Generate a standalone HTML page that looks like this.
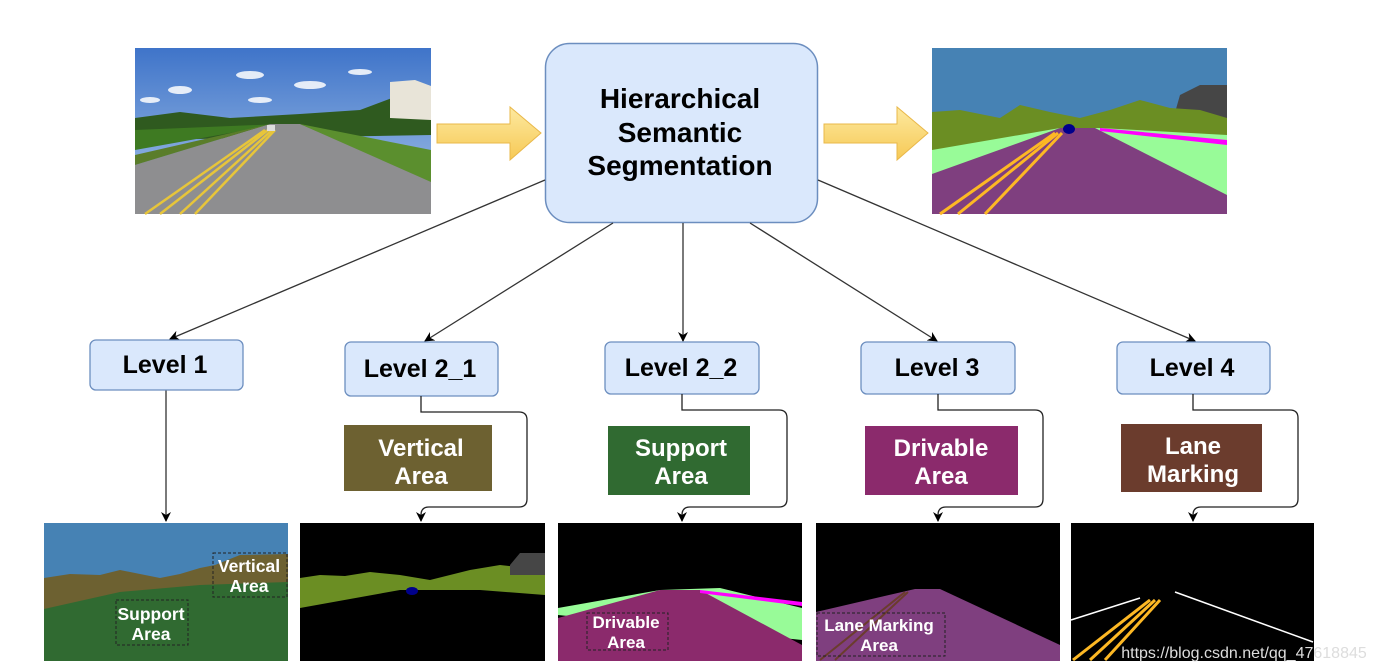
<!DOCTYPE html>
<html><head><meta charset="utf-8"><style>
html,body{margin:0;padding:0;background:#fff;}
svg{display:block;font-family:"Liberation Sans",Arial,sans-serif;font-weight:bold;}
</style></head><body>
<svg width="1376" height="672" viewBox="0 0 1376 672" xmlns="http://www.w3.org/2000/svg">
<defs>
<marker id="ah" markerWidth="10" markerHeight="10" refX="9" refY="5" orient="auto" markerUnits="userSpaceOnUse">
<path d="M0,0 L10,5 L0,10 L3,5 Z" fill="#000"/></marker>
<linearGradient id="sky" x1="0" y1="0" x2="0" y2="1"><stop offset="0" stop-color="#3f74c9"/><stop offset="1" stop-color="#a9c6ea"/></linearGradient>
<linearGradient id="arr" x1="0" y1="0" x2="0" y2="1"><stop offset="0" stop-color="#fde9a0"/><stop offset="1" stop-color="#f6c955"/></linearGradient>
</defs>

<!-- top-left photo -->
<rect x="135" y="48" width="296" height="166" fill="url(#sky)"/>
<g fill="#fff" opacity="0.85">
<ellipse cx="250" cy="75" rx="14" ry="4"/><ellipse cx="180" cy="90" rx="12" ry="4"/><ellipse cx="310" cy="85" rx="16" ry="4"/><ellipse cx="260" cy="100" rx="12" ry="3"/><ellipse cx="150" cy="100" rx="10" ry="3"/><ellipse cx="360" cy="72" rx="12" ry="3"/>
</g>
<polygon points="135,118 180,112 230,118 300,114 360,110 400,95 431,90 431,135 135,140" fill="#2f5a1f"/>
<polygon points="135,130 280,124 135,150" fill="#3e7a22"/>
<polygon points="390,82 415,80 431,86 431,120 390,118" fill="#e8e4d8"/>
<polygon points="135,165 270,124 300,124 431,180 431,214 135,214" fill="#8e8e90"/>
<polygon points="300,124 431,150 431,182" fill="#5b8f2e"/>
<polygon points="135,165 270,124 135,155" fill="#5a7d2a"/>
<g stroke="#e7c53a" stroke-width="2.5"><line x1="145" y1="214" x2="265" y2="130"/><line x1="160" y1="214" x2="268" y2="130"/><line x1="180" y1="214" x2="272" y2="130"/><line x1="195" y1="214" x2="275" y2="130"/></g>
<rect x="267" y="125" width="8" height="6" fill="#ddd"/>

<!-- arrows -->
<polygon points="437,124 510,124 510,107 541,133 510,160 510,143 437,143" fill="url(#arr)" stroke="#e9b84a"/>
<polygon points="824,124 897,124 897,107 928,133 897,160 897,143 824,143" fill="url(#arr)" stroke="#e9b84a"/>

<!-- top-right seg -->
<rect x="932" y="48" width="295" height="166" fill="#4682b4"/>
<polygon points="1180,95 1200,85 1227,85 1227,130 1170,130" fill="#464646"/>
<polygon points="932,112 960,110 1000,118 1020,105 1050,112 1080,118 1110,110 1140,100 1170,108 1200,110 1227,118 1227,140 932,150" fill="#6b8e23"/>
<polygon points="932,150 1060,128 1100,128 1227,135 1227,195 932,175" fill="#98fb98"/>
<polygon points="932,174 1060,128 1095,128 1227,195 1227,214 932,214" fill="#7f3f7f"/>
<polygon points="1100,128 1227,140 1227,145 1100,131" fill="#ff00ff"/>
<g stroke="#fdb824" stroke-width="3"><line x1="940" y1="214" x2="1055" y2="133"/><line x1="958" y1="214" x2="1058" y2="133"/><line x1="985" y1="214" x2="1062" y2="133"/></g>
<ellipse cx="1069" cy="129" rx="6" ry="5" fill="#00008b"/>

<!-- center box -->
<rect x="545.5" y="43.5" width="272" height="179" rx="24" fill="#dae8fc" stroke="#6c8ebf" stroke-width="1.5"/>
<g font-size="28" text-anchor="middle" fill="#000">
<text x="680" y="108">Hierarchical</text><text x="680" y="142">Semantic</text><text x="680" y="175">Segmentation</text></g>

<!-- connectors -->
<g stroke="#333" stroke-width="1.3" fill="none" marker-end="url(#ah)">
<line x1="545" y1="180" x2="170" y2="339"/>
<line x1="613" y1="223" x2="425" y2="341"/>
<line x1="683" y1="223" x2="683" y2="341"/>
<line x1="750" y1="223" x2="937" y2="341"/>
<line x1="818" y1="180" x2="1195" y2="341"/>
<line x1="166" y1="390" x2="166" y2="521"/>
</g>

<!-- level boxes -->
<g fill="#dae8fc" stroke="#6c8ebf" stroke-width="1.3">
<rect x="90" y="340" width="153" height="50" rx="6"/>
<rect x="345" y="342" width="153" height="54" rx="6"/>
<rect x="605" y="342" width="154" height="52" rx="6"/>
<rect x="861" y="342" width="154" height="52" rx="6"/>
<rect x="1117" y="342" width="153" height="52" rx="6"/>
</g>
<g font-size="25" text-anchor="middle" fill="#000">
<text x="165" y="373">Level 1</text>
<text x="420" y="377">Level 2_1</text>
<text x="681" y="376">Level 2_2</text>
<text x="937" y="376">Level 3</text>
<text x="1192" y="376">Level 4</text>
</g>

<!-- loop connectors -->
<g stroke="#222" stroke-width="1.3" fill="none">
<path d="M421,396 V412 H519 Q527,412 527,420 V499 Q527,507 519,507 H429 Q421,507 421,515 V521" marker-end="url(#ah)"/>
<path d="M682,394 V410 H779 Q787,410 787,418 V499 Q787,507 779,507 H690 Q682,507 682,515 V521" marker-end="url(#ah)"/>
<path d="M938,394 V410 H1035 Q1043,410 1043,418 V499 Q1043,507 1035,507 H946 Q938,507 938,515 V521" marker-end="url(#ah)"/>
<path d="M1193,394 V410 H1290 Q1298,410 1298,418 V499 Q1298,507 1290,507 H1201 Q1193,507 1193,515 V521" marker-end="url(#ah)"/>
</g>

<!-- colored label boxes -->
<rect x="344" y="425" width="148" height="66" fill="#6d6131"/>
<rect x="608" y="426" width="142" height="69" fill="#306a31"/>
<rect x="865" y="426" width="153" height="69" fill="#8b2a6c"/>
<rect x="1121" y="424" width="141" height="68" fill="#6b3c2d"/>
<g font-size="24" text-anchor="middle" fill="#fff">
<text x="421" y="456">Vertical</text><text x="421" y="484">Area</text>
<text x="681" y="456">Support</text><text x="681" y="484">Area</text>
<text x="941" y="456">Drivable</text><text x="941" y="484">Area</text>
<text x="1193" y="454">Lane</text><text x="1193" y="482">Marking</text>
</g>

<!-- bottom 1 -->
<rect x="44" y="523" width="244" height="138" fill="#4682b4"/>
<polygon points="44,578 70,574 100,575 120,570 140,574 160,578 180,574 200,568 215,565 240,555 288,554 288,600 44,610" fill="#6d6131"/>
<polygon points="44,609 120,592 200,585 288,582 288,661 44,661" fill="#306a31"/>
<rect x="213" y="553" width="74" height="44" fill="none" stroke="#222" stroke-dasharray="3,2"/>
<rect x="116" y="600" width="72" height="45" fill="none" stroke="#222" stroke-dasharray="3,2"/>
<g font-size="17.5" text-anchor="middle" fill="#fff">
<text x="249" y="572">Vertical</text><text x="249" y="592">Area</text>
<text x="151" y="620">Support</text><text x="151" y="640">Area</text></g>

<!-- bottom 2 -->
<rect x="300" y="523" width="245" height="138" fill="#000"/>
<polygon points="300,578 320,575 345,576 370,572 400,575 430,580 470,570 500,565 545,570 545,595 480,590 400,590 300,608" fill="#6b8e23"/>
<polygon points="510,565 520,553 545,553 545,575 510,575" fill="#464646"/>
<ellipse cx="412" cy="591" rx="6" ry="4" fill="#00008b"/>

<!-- bottom 3 -->
<rect x="558" y="523" width="244" height="138" fill="#000"/>
<polygon points="558,608 660,590 720,588 802,608 802,640 558,615" fill="#98fb98"/>
<polygon points="558,618 660,590 700,590 802,645 802,661 558,661" fill="#8b2a6c"/>
<polygon points="700,590 802,602 802,606 700,593" fill="#ff00ff"/>
<rect x="587" y="613" width="81" height="37" fill="none" stroke="#222" stroke-dasharray="3,2"/>
<g font-size="17" text-anchor="middle" fill="#fff"><text x="626" y="628">Drivable</text><text x="626" y="648">Area</text></g>

<!-- bottom 4 -->
<rect x="816" y="523" width="244" height="138" fill="#000"/>
<polygon points="816,612 915,589 940,589 1060,645 1060,661 816,661" fill="#7f3f7f"/>
<g stroke="#6b3c2d" stroke-width="2"><line x1="820" y1="660" x2="905" y2="592"/><line x1="835" y1="660" x2="908" y2="592"/></g>
<rect x="817" y="613" width="128" height="43" fill="none" stroke="#222" stroke-dasharray="3,2"/>
<g font-size="17" text-anchor="middle" fill="#fff"><text x="879" y="631">Lane Marking</text><text x="879" y="651">Area</text></g>

<!-- bottom 5 -->
<rect x="1071" y="523" width="243" height="138" fill="#000"/>
<g stroke="#fdb824" stroke-width="3"><line x1="1073" y1="660" x2="1150" y2="600"/><line x1="1090" y1="660" x2="1155" y2="600"/><line x1="1105" y1="660" x2="1160" y2="600"/></g>
<g stroke="#fff" stroke-width="1.5"><line x1="1071" y1="620" x2="1140" y2="598"/><line x1="1175" y1="592" x2="1313" y2="642"/></g>
<text x="1244" y="658" font-size="16" fill="#ddd" text-anchor="middle" style="font-weight:normal">https://blog.csdn.net/qq_47618845</text>
</svg>
</body></html>
